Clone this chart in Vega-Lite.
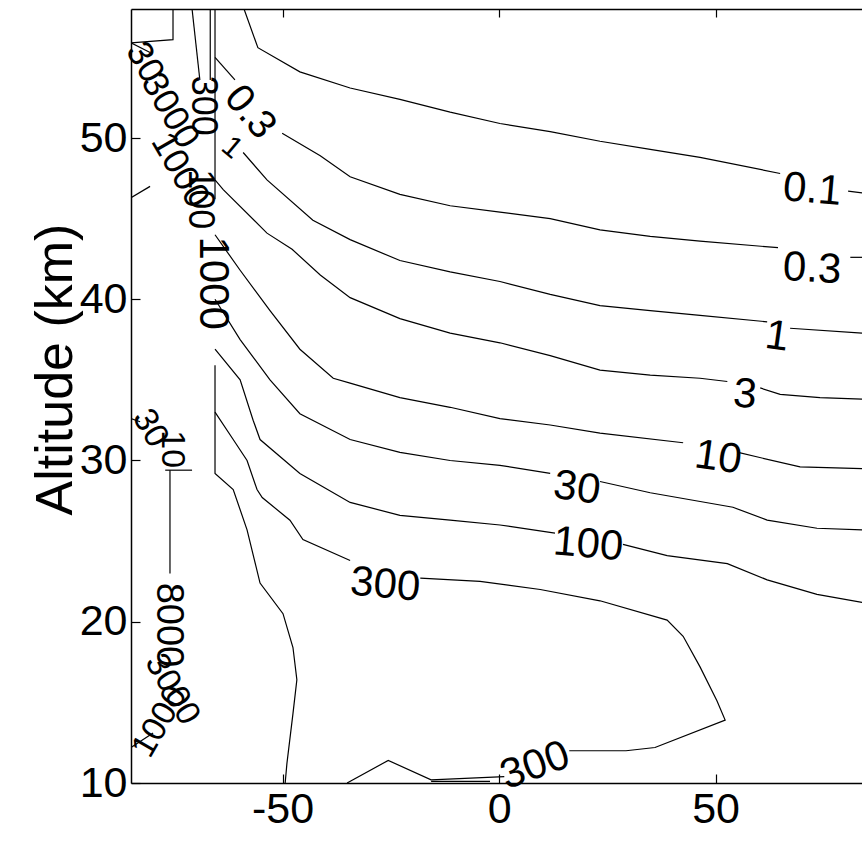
{
  "$schema": "https://vega.github.io/schema/vega-lite/v6.json",
  "width": 731,
  "height": 774,
  "autosize": {"type": "none"},
  "padding": {"left": 131, "top": 9, "right": 0, "bottom": 70},
  "background": "white",
  "config": {
    "view": {"stroke": null},
    "axis": {
      "grid": false,
      "labelFont": "Liberation Sans",
      "labelFontSize": 43,
      "labelColor": "black",
      "titleFont": "Liberation Sans",
      "titleFontSize": 52,
      "titleFontWeight": "normal",
      "titleColor": "black",
      "domainColor": "black",
      "domainWidth": 1.5,
      "tickColor": "black",
      "tickWidth": 1.2
    }
  },
  "datasets": {
    "lines": [
      {"s": "box", "o": 1, "x": -75.3, "y": 58.0}, {"s": "box", "o": 2, "x": -75.3, "y": 56.1}, {"s": "box", "o": 3, "x": -85.0, "y": 55.9},
      {"s": "tl1", "o": 1, "x": -85.0, "y": 55.9}, {"s": "tl1", "o": 2, "x": -80.6, "y": 55.3},
      {"s": "tl2", "o": 1, "x": -85.0, "y": 46.3}, {"s": "tl2", "o": 2, "x": -80.6, "y": 47.0},
      {"s": "v1", "o": 1, "x": -70.9, "y": 58.0}, {"s": "v1", "o": 2, "x": -69.1, "y": 53.6},
      {"s": "v2", "o": 1, "x": -66.7, "y": 58.0}, {"s": "v2", "o": 2, "x": -66.7, "y": 53.6},
      {"s": "v3", "o": 1, "x": -65.6, "y": 58.0}, {"s": "v3", "o": 2, "x": -65.6, "y": 46.2},
      {"s": "v3b", "o": 1, "x": -65.6, "y": 35.9}, {"s": "v3b", "o": 2, "x": -65.6, "y": 29.2}, {"s": "v3b", "o": 3, "x": -61.4, "y": 28.2}, {"s": "v3b", "o": 4, "x": -58.2, "y": 25.7}, {"s": "v3b", "o": 5, "x": -55.2, "y": 22.4}, {"s": "v3b", "o": 6, "x": -49.9, "y": 20.5}, {"s": "v3b", "o": 7, "x": -47.6, "y": 18.4}, {"s": "v3b", "o": 8, "x": -46.7, "y": 16.4}, {"s": "v3b", "o": 9, "x": -47.6, "y": 14.3}, {"s": "v3b", "o": 10, "x": -49.0, "y": 11.2}, {"s": "v3b", "o": 11, "x": -49.4, "y": 10.0},
      {"s": "c01a", "o": 1, "x": -58.9, "y": 58.0}, {"s": "c01a", "o": 2, "x": -55.7, "y": 55.6}, {"s": "c01a", "o": 3, "x": -46.0, "y": 54.1}, {"s": "c01a", "o": 4, "x": -34.4, "y": 53.1}, {"s": "c01a", "o": 5, "x": -22.9, "y": 52.4}, {"s": "c01a", "o": 6, "x": -11.3, "y": 51.6}, {"s": "c01a", "o": 7, "x": 0.2, "y": 50.9}, {"s": "c01a", "o": 8, "x": 11.8, "y": 50.4}, {"s": "c01a", "o": 9, "x": 23.3, "y": 49.8}, {"s": "c01a", "o": 10, "x": 34.9, "y": 49.3}, {"s": "c01a", "o": 11, "x": 46.4, "y": 48.8}, {"s": "c01a", "o": 12, "x": 64.9, "y": 47.8},
      {"s": "c01b", "o": 1, "x": 80.6, "y": 46.7}, {"s": "c01b", "o": 2, "x": 83.8, "y": 46.6},
      {"s": "c03a", "o": 1, "x": -65.6, "y": 55.0}, {"s": "c03a", "o": 2, "x": -61.0, "y": 53.6},
      {"s": "c03b", "o": 1, "x": -50.1, "y": 50.3}, {"s": "c03b", "o": 2, "x": -41.3, "y": 48.9}, {"s": "c03b", "o": 3, "x": -34.4, "y": 47.6}, {"s": "c03b", "o": 4, "x": -22.9, "y": 46.5}, {"s": "c03b", "o": 5, "x": -11.3, "y": 45.8}, {"s": "c03b", "o": 6, "x": 0.2, "y": 45.4}, {"s": "c03b", "o": 7, "x": 11.8, "y": 45.0}, {"s": "c03b", "o": 8, "x": 23.3, "y": 44.3}, {"s": "c03b", "o": 9, "x": 34.9, "y": 43.9}, {"s": "c03b", "o": 10, "x": 46.4, "y": 43.6}, {"s": "c03b", "o": 11, "x": 64.4, "y": 43.2},
      {"s": "c03c", "o": 1, "x": 81.1, "y": 42.6}, {"s": "c03c", "o": 2, "x": 83.8, "y": 42.6},
      {"s": "c1a", "o": 1, "x": -59.1, "y": 49.1}, {"s": "c1a", "o": 2, "x": -53.6, "y": 47.4}, {"s": "c1a", "o": 3, "x": -43.0, "y": 44.9}, {"s": "c1a", "o": 4, "x": -34.4, "y": 43.7}, {"s": "c1a", "o": 5, "x": -22.9, "y": 42.4}, {"s": "c1a", "o": 6, "x": -11.3, "y": 41.7}, {"s": "c1a", "o": 7, "x": 0.2, "y": 41.1}, {"s": "c1a", "o": 8, "x": 11.8, "y": 40.3}, {"s": "c1a", "o": 9, "x": 23.3, "y": 39.6}, {"s": "c1a", "o": 10, "x": 34.9, "y": 39.3}, {"s": "c1a", "o": 11, "x": 46.4, "y": 39.0}, {"s": "c1a", "o": 12, "x": 61.9, "y": 38.6},
      {"s": "c1b", "o": 1, "x": 67.2, "y": 38.2}, {"s": "c1b", "o": 2, "x": 83.8, "y": 37.9},
      {"s": "c3a", "o": 1, "x": -65.6, "y": 47.4}, {"s": "c3a", "o": 2, "x": -63.7, "y": 46.8}, {"s": "c3a", "o": 3, "x": -53.6, "y": 44.1}, {"s": "c3a", "o": 4, "x": -47.8, "y": 43.1}, {"s": "c3a", "o": 5, "x": -41.3, "y": 41.5}, {"s": "c3a", "o": 6, "x": -34.4, "y": 40.1}, {"s": "c3a", "o": 7, "x": -22.9, "y": 38.8}, {"s": "c3a", "o": 8, "x": -11.3, "y": 37.9}, {"s": "c3a", "o": 9, "x": 0.2, "y": 37.3}, {"s": "c3a", "o": 10, "x": 11.8, "y": 36.5}, {"s": "c3a", "o": 11, "x": 23.3, "y": 35.6}, {"s": "c3a", "o": 12, "x": 34.9, "y": 35.3}, {"s": "c3a", "o": 13, "x": 46.4, "y": 35.1}, {"s": "c3a", "o": 14, "x": 52.7, "y": 34.9},
      {"s": "c3b", "o": 1, "x": 60.3, "y": 34.5}, {"s": "c3b", "o": 2, "x": 64.9, "y": 34.1}, {"s": "c3b", "o": 3, "x": 74.1, "y": 33.9}, {"s": "c3b", "o": 4, "x": 83.8, "y": 33.8},
      {"s": "c10a", "o": 1, "x": -65.6, "y": 44.0}, {"s": "c10a", "o": 2, "x": -59.8, "y": 41.8}, {"s": "c10a", "o": 3, "x": -52.9, "y": 39.3}, {"s": "c10a", "o": 4, "x": -46.0, "y": 36.9}, {"s": "c10a", "o": 5, "x": -38.3, "y": 35.1}, {"s": "c10a", "o": 6, "x": -34.4, "y": 34.8}, {"s": "c10a", "o": 7, "x": -22.9, "y": 33.9}, {"s": "c10a", "o": 8, "x": -11.3, "y": 33.3}, {"s": "c10a", "o": 9, "x": 0.2, "y": 32.6}, {"s": "c10a", "o": 10, "x": 11.8, "y": 32.2}, {"s": "c10a", "o": 11, "x": 23.3, "y": 31.7}, {"s": "c10a", "o": 12, "x": 42.5, "y": 31.1},
      {"s": "c10b", "o": 1, "x": 55.2, "y": 30.5}, {"s": "c10b", "o": 2, "x": 69.5, "y": 29.6}, {"s": "c10b", "o": 3, "x": 83.8, "y": 29.5},
      {"s": "c30a", "o": 1, "x": -65.6, "y": 40.0}, {"s": "c30a", "o": 2, "x": -59.8, "y": 37.5}, {"s": "c30a", "o": 3, "x": -52.9, "y": 35.0}, {"s": "c30a", "o": 4, "x": -46.0, "y": 32.9}, {"s": "c30a", "o": 5, "x": -34.4, "y": 31.3}, {"s": "c30a", "o": 6, "x": -22.9, "y": 30.5}, {"s": "c30a", "o": 7, "x": -11.3, "y": 30.0}, {"s": "c30a", "o": 8, "x": 0.2, "y": 29.7}, {"s": "c30a", "o": 9, "x": 11.8, "y": 29.2},
      {"s": "c30b", "o": 1, "x": 23.3, "y": 28.7}, {"s": "c30b", "o": 2, "x": 34.9, "y": 28.0}, {"s": "c30b", "o": 3, "x": 54.0, "y": 27.1}, {"s": "c30b", "o": 4, "x": 61.9, "y": 26.3}, {"s": "c30b", "o": 5, "x": 73.4, "y": 25.8}, {"s": "c30b", "o": 6, "x": 83.8, "y": 25.7},
      {"s": "c100a", "o": 1, "x": -65.6, "y": 36.9}, {"s": "c100a", "o": 2, "x": -59.8, "y": 35.0}, {"s": "c100a", "o": 3, "x": -56.8, "y": 32.5}, {"s": "c100a", "o": 4, "x": -55.2, "y": 31.3}, {"s": "c100a", "o": 5, "x": -46.0, "y": 29.2}, {"s": "c100a", "o": 6, "x": -34.4, "y": 27.4}, {"s": "c100a", "o": 7, "x": -22.9, "y": 26.6}, {"s": "c100a", "o": 8, "x": -11.3, "y": 26.3}, {"s": "c100a", "o": 9, "x": 0.2, "y": 26.0}, {"s": "c100a", "o": 10, "x": 12.9, "y": 25.5},
      {"s": "c100b", "o": 1, "x": 28.6, "y": 24.8}, {"s": "c100b", "o": 2, "x": 38.8, "y": 24.1}, {"s": "c100b", "o": 3, "x": 52.7, "y": 23.6}, {"s": "c100b", "o": 4, "x": 61.9, "y": 22.6}, {"s": "c100b", "o": 5, "x": 73.4, "y": 21.7}, {"s": "c100b", "o": 6, "x": 83.8, "y": 21.2},
      {"s": "c300a", "o": 1, "x": -65.6, "y": 33.0}, {"s": "c300a", "o": 2, "x": -61.4, "y": 31.3}, {"s": "c300a", "o": 3, "x": -58.2, "y": 30.0}, {"s": "c300a", "o": 4, "x": -55.9, "y": 28.2}, {"s": "c300a", "o": 5, "x": -54.7, "y": 27.7}, {"s": "c300a", "o": 6, "x": -48.3, "y": 26.3}, {"s": "c300a", "o": 7, "x": -45.3, "y": 25.1}, {"s": "c300a", "o": 8, "x": -34.4, "y": 23.8},
      {"s": "c300b", "o": 1, "x": -18.2, "y": 22.7}, {"s": "c300b", "o": 2, "x": -4.4, "y": 22.5}, {"s": "c300b", "o": 3, "x": 9.5, "y": 22.0}, {"s": "c300b", "o": 4, "x": 23.3, "y": 21.3}, {"s": "c300b", "o": 5, "x": 38.8, "y": 20.1}, {"s": "c300b", "o": 6, "x": 42.5, "y": 19.1}, {"s": "c300b", "o": 7, "x": 46.4, "y": 17.2}, {"s": "c300b", "o": 8, "x": 50.3, "y": 15.1}, {"s": "c300b", "o": 9, "x": 52.2, "y": 13.9}, {"s": "c300b", "o": 10, "x": 36.0, "y": 12.2}, {"s": "c300b", "o": 11, "x": 29.3, "y": 12.0}, {"s": "c300b", "o": 12, "x": 16.2, "y": 12.0},
      {"s": "c300c", "o": 1, "x": 1.2, "y": 10.4}, {"s": "c300c", "o": 2, "x": -15.7, "y": 10.2}, {"s": "c300c", "o": 3, "x": -25.6, "y": 11.4}, {"s": "c300c", "o": 4, "x": -35.1, "y": 10.0},
      {"s": "c300d", "o": 1, "x": -15.7, "y": 10.1}, {"s": "c300d", "o": 2, "x": -2.1, "y": 10.1},
      {"s": "lb1", "o": 1, "x": -85.0, "y": 32.6}, {"s": "lb1", "o": 2, "x": -82.9, "y": 32.4},
      {"s": "lb2", "o": 1, "x": -76.0, "y": 29.4}, {"s": "lb2", "o": 2, "x": -76.0, "y": 23.0},
      {"s": "lb3", "o": 1, "x": -77.1, "y": 29.4}, {"s": "lb3", "o": 2, "x": -70.9, "y": 29.4},
      {"s": "lb4", "o": 1, "x": -85.0, "y": 12.2}, {"s": "lb4", "o": 2, "x": -79.9, "y": 13.1}
    ],
    "labels": [
      {"t": "0.1", "x": 72.3, "y": 46.8, "a": 5, "f": 42},
      {"t": "0.3", "x": 72.3, "y": 41.9, "a": 3, "f": 42},
      {"t": "1", "x": 64.2, "y": 37.7, "a": 8, "f": 42},
      {"t": "3", "x": 56.8, "y": 34.1, "a": 5, "f": 42},
      {"t": "10", "x": 50.6, "y": 30.2, "a": 8, "f": 42},
      {"t": "30", "x": 18.0, "y": 28.3, "a": 8, "f": 42},
      {"t": "100", "x": 20.6, "y": 24.8, "a": 5, "f": 42},
      {"t": "300", "x": -26.3, "y": 22.3, "a": 5, "f": 42},
      {"t": "300", "x": 8.3, "y": 11.1, "a": -20, "f": 42},
      {"t": "0.3", "x": -57.5, "y": 51.6, "a": 50, "f": 40},
      {"t": "1", "x": -61.7, "y": 49.4, "a": 40, "f": 30},
      {"t": "1000", "x": -66.1, "y": 41.0, "a": 90, "f": 42},
      {"t": "30", "x": -81.8, "y": 54.7, "a": 60, "f": 36},
      {"t": "3000", "x": -76.0, "y": 51.7, "a": 60, "f": 36},
      {"t": "1000", "x": -73.7, "y": 48.0, "a": 60, "f": 36},
      {"t": "300", "x": -68.4, "y": 52.0, "a": 90, "f": 36},
      {"t": "100", "x": -69.1, "y": 46.2, "a": 90, "f": 36},
      {"t": "30", "x": -80.6, "y": 32.0, "a": 60, "f": 34},
      {"t": "10", "x": -75.5, "y": 30.7, "a": 90, "f": 34},
      {"t": "8000", "x": -76.4, "y": 19.8, "a": 90, "f": 38},
      {"t": "3000", "x": -75.5, "y": 15.8, "a": 60, "f": 34},
      {"t": "1000", "x": -78.3, "y": 13.8, "a": -60, "f": 34}
    ]
  },
  "resolve": {"axis": {"x": "independent"}},
  "layer": [
    {
      "data": {"name": "lines"},
      "mark": {"type": "line", "stroke": "black", "strokeWidth": 1.2, "clip": true},
      "encoding": {
        "x": {"field": "x", "type": "quantitative", "scale": {"domain": [-85, 83.8], "nice": false, "zero": false},
              "axis": {"orient": "bottom", "values": [-50, 0, 50], "labelExpr": "'' + datum.value", "tickSize": -9, "labelPadding": 14, "title": null}},
        "y": {"field": "y", "type": "quantitative", "scale": {"domain": [10, 58], "nice": false, "zero": false},
              "axis": {"orient": "left", "values": [10, 20, 30, 40, 50], "tickSize": -9, "labelPadding": 13, "title": "Altitude (km)", "titleX": -76, "titleY": 360, "titleAngle": -90, "titleAlign": "center", "titleBaseline": "middle"}},
        "detail": {"field": "s"},
        "order": {"field": "o", "type": "quantitative"}
      }
    },
    {
      "data": {"name": "labels"},
      "mark": {"type": "text", "font": "Liberation Sans", "color": "black", "align": "center", "baseline": "middle"},
      "encoding": {
        "x": {"field": "x", "type": "quantitative", "scale": {"domain": [-85, 83.8], "nice": false, "zero": false},
              "axis": {"orient": "top", "values": [-50, 0, 50], "tickSize": -8, "labels": false, "title": null}},
        "y": {"field": "y", "type": "quantitative"},
        "text": {"field": "t"},
        "angle": {"field": "a", "type": "quantitative", "scale": null},
        "size": {"field": "f", "type": "quantitative", "scale": null}
      }
    }
  ]
}
